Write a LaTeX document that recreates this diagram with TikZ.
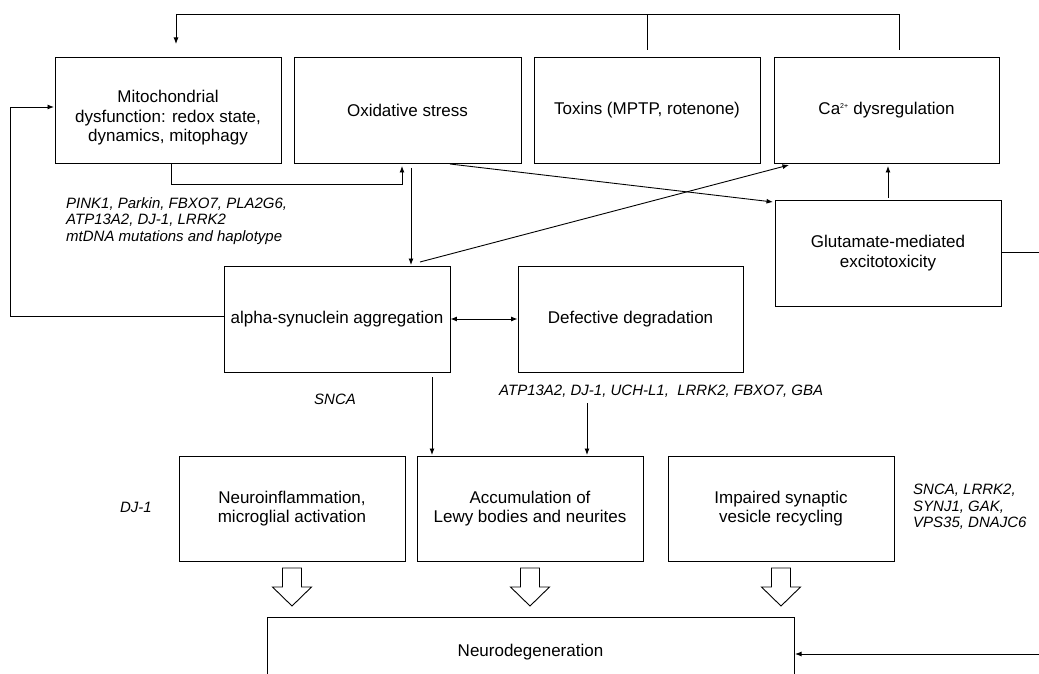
\documentclass[tikz,border=0pt]{standalone}
\usepackage{fontspec}
\setmainfont{Liberation Sans}
\usetikzlibrary{arrows.meta,calc}
\begin{document}
\begin{tikzpicture}[x=1pt,y=-1pt,
  box/.style={draw, line width=0.9pt, rectangle, align=center, minimum width=226pt, minimum height=106pt, inner sep=0pt, font=\fontsize{17}{19.5}\selectfont},
  gene/.style={font=\fontsize{15}{16.7}\selectfont\itshape, inner sep=0pt, align=left},
  conn/.style={line width=0.9pt},
  arr/.style={line width=0.9pt, -{Latex[length=6.5pt,width=5pt]}},
  darr/.style={line width=0.9pt, {Latex[length=6.5pt,width=5pt]}-{Latex[length=6.5pt,width=5pt]}},
  blockarrow/.style={draw, line width=0.9pt, fill=white}]
\useasboundingbox (0,0) rectangle (1039,674);
\clip (0,0) rectangle (1039,674);
% boxes
\node[box, label={[font=\fontsize{17}{19.5}\selectfont, align=center, yshift=-8pt]center:Mitochondrial\\dysfunction: redox state,\\dynamics, mitophagy}] (mito) at (168,110) {};
\node[box, minimum width=227pt] (ox) at (407.5,110) {Oxidative stress};
\node[box] (tox) at (647,110) {Toxins (MPTP, rotenone)};
\node[box, minimum width=225pt] (ca) at (886.5,110) {Ca\textsuperscript{\fontsize{7}{8}\selectfont 2+} dysregulation};
\node[box] (glu) at (888,253) {Glutamate-mediated\\excitotoxicity};
\node[box] (alpha) at (337,319) {alpha-synuclein aggregation};
\node[box, minimum width=225pt] (def) at (630.5,319) {Defective degradation};
\node[box, minimum height=105pt] (infl) at (292,508.5) {Neuroinflammation,\\microglial activation};
\node[box, minimum height=105pt] (accum) at (530,508.5) {Accumulation of\\Lewy bodies and neurites};
\node[box, minimum height=105pt] (syn) at (781,508.5) {Impaired synaptic\\vesicle recycling};
\node[box, minimum width=527pt, minimum height=90pt, anchor=north] (neuro) at (530.5,617) {};
\node[font=\fontsize{17}{19.5}\selectfont] (neurotext) at (530.5,652) {Neurodegeneration};
% gene labels
\node[gene, anchor=north west] (g1) at (66,197) {PINK1, Parkin, FBXO7, PLA2G6,\\ATP13A2, DJ-1, LRRK2\\mtDNA mutations and haplotype};
\node[gene] (g2) at (335,399) {SNCA};
\node[gene, anchor=west] (g3) at (499,391) {ATP13A2, DJ-1, UCH-L1,\ \ LRRK2, FBXO7, GBA};
\node[gene] (g4) at (136,507) {DJ-1};
\node[gene, anchor=west] (g5) at (913,507) {SNCA, LRRK2,\\SYNJ1, GAK,\\VPS35, DNAJC6};
% coordinates
\coordinate (topL) at (176,14);
\coordinate (topR) at (899,14);
\coordinate (caTop) at (899,50);
\coordinate (toxTopC) at (647,14);
\coordinate (toxTop) at (647,50);
\coordinate (mitoIn) at (176,44);
\coordinate (alphaL) at (224,316);
\coordinate (leftB) at (10,316);
\coordinate (leftT) at (10,107);
\coordinate (mitoL) at (54,107);
\coordinate (mitoB) at (171,164);
\coordinate (mitoB2) at (171,184);
\coordinate (oxB2) at (402,184);
\coordinate (oxB) at (402,166);
\coordinate (oxOut) at (411,168);
\coordinate (alphaIn) at (411,265);
\coordinate (alphaOut) at (420,262);
\coordinate (caIn) at (789,165);
\coordinate (oxOut2) at (450,164);
\coordinate (gluIn) at (773,202);
\coordinate (gluTop) at (888,198);
\coordinate (caIn2) at (888,166);
\coordinate (gluR) at (1001,252);
\coordinate (edgeR) at (1039,252);
\coordinate (edgeR2) at (1039,654);
\coordinate (neuroIn) at (795,654);
\coordinate (alphaDown) at (432,377);
\coordinate (accumIn1) at (432,455);
\coordinate (geneDown) at (587,403);
\coordinate (accumIn2) at (587,455);
% connectors
\draw[conn] (caTop) -- (topR) -- (topL);
\draw[arr] (topL) -- (mitoIn);
\draw[conn] (toxTop) -- (toxTopC);
\draw[arr] (alphaL) -- (leftB) -- (leftT) -- (mitoL);
\draw[arr] (mitoB) -- (mitoB2) -- (oxB2) -- (oxB);
\draw[arr] (oxOut) -- (alphaIn);
\draw[arr] (alphaOut) -- (caIn);
\draw[arr] (oxOut2) -- (gluIn);
\draw[arr] (gluTop) -- (caIn2);
\draw[darr] (alpha.east) -- (def.west);
\draw[arr] (alphaDown) -- (accumIn1);
\draw[arr] (geneDown) -- (accumIn2);
\draw[conn] (gluR) -- (edgeR);
\draw[arr] (edgeR2) -- (neuroIn);
% block arrows
\foreach \cx in {292,530,781}{
  \draw[blockarrow] (\cx-9.5,568) -- (\cx+9.5,568) -- (\cx+9.5,587) -- (\cx+19.5,587) -- (\cx,606) -- (\cx-19.5,587) -- (\cx-9.5,587) -- cycle;
}
\end{tikzpicture}
\end{document}
